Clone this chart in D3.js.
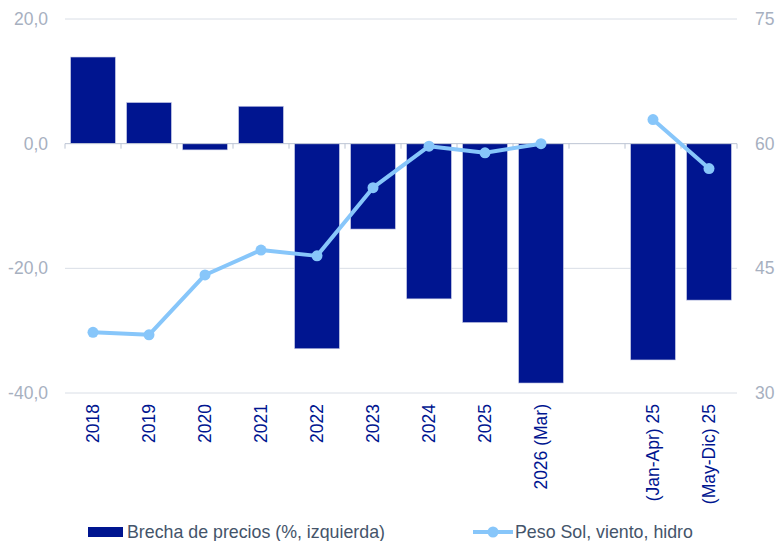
<!DOCTYPE html>
<html lang="es">

<head>
    <meta charset="UTF-8">
    <title>Brecha de precios y peso renovable</title>
    <script src="https://d3js.org/d3.v7.min.js"></script>
    <style>
        body {
            margin: 0;
            font-family: "Liberation Sans", Arial, sans-serif;
            background: white;
        }

        .axis-label {
            font-size: 17.5px;
            fill: #a7b0bf;
        }

        .cat-label {
            font-size: 17.5px;
            fill: #001590;
        }

        .legend-text {
            font-size: 17.8px;
            fill: #44546a;
        }
    </style>
</head>

<body>
    <div id="chart"></div>

    <script>
        const categories = ["2018", "2019", "2020", "2021", "2022", "2023", "2024", "2025", "2026 (Mar)", "", "(Jan-Apr) 25", "(May-Dic) 25"];
        const brecha = [13.9, 6.6, -1.0, 6.0, -32.9, -13.7, -24.9, -28.7, -38.4, null, -34.7, -25.1];
        const peso = [37.3, 37.0, 44.2, 47.2, 46.5, 54.7, 59.7, 58.9, 60.0, null, 62.9, 57.0];
        const leftTicks = [-40, -20, 0, 20];
        const rightTicks = [30, 45, 60, 75];

        const width = 778;
        const height = 541;
        const margin = { top: 19, right: 41, bottom: 148, left: 65 };
        const innerW = width - margin.left - margin.right;
        const innerH = height - margin.top - margin.bottom;

        const barColor = "#001590";
        const lineColor = "#87c6fa";

        const esFormat = d3.formatLocale({ decimal: ",", thousands: ".", grouping: [3], currency: ["", "€"], minus: "-" }).format(".1f");

        const svg = d3.select("#chart")
            .append("svg")
            .attr("width", width)
            .attr("height", height);

        const g = svg.append("g")
            .attr("transform", `translate(${margin.left},${margin.top})`);

        const x = d3.scaleBand()
            .domain(categories.map((c, i) => i))
            .range([0, innerW])
            .paddingInner(0.2)
            .paddingOuter(0.1);

        const y = d3.scaleLinear()
            .domain([-40, 20])
            .range([innerH, 0]);

        const y2 = d3.scaleLinear()
            .domain([30, 75])
            .range([innerH, 0]);

        // gridlines
        g.selectAll(".grid")
            .data(leftTicks.filter(d => d !== 0))
            .enter().append("line")
            .attr("x1", 0)
            .attr("x2", innerW)
            .attr("y1", d => y(d))
            .attr("y2", d => y(d))
            .attr("stroke", "#d9dee6")
            .attr("stroke-width", 1);

        // left axis labels
        g.selectAll(".left-label")
            .data(leftTicks)
            .enter().append("text")
            .attr("class", "axis-label")
            .attr("x", -17)
            .attr("y", d => y(d))
            .attr("dy", "0.35em")
            .attr("text-anchor", "end")
            .text(d => esFormat(d));

        // right axis labels
        g.selectAll(".right-label")
            .data(rightTicks)
            .enter().append("text")
            .attr("class", "axis-label")
            .attr("x", innerW + 18)
            .attr("y", d => y2(d))
            .attr("dy", "0.35em")
            .attr("text-anchor", "start")
            .text(d => d);

        // bars
        g.selectAll(".bar")
            .data(brecha.map((v, i) => ({ i, v })).filter(d => d.v !== null))
            .enter().append("rect")
            .attr("class", "bar")
            .attr("x", d => x(d.i))
            .attr("width", x.bandwidth())
            .attr("y", d => y(Math.max(0, d.v)))
            .attr("height", d => Math.abs(y(d.v) - y(0)))
            .attr("fill", barColor)
            .attr("stroke", "#c8cce6")
            .attr("stroke-width", 0.6);

        // zero line with category boundary ticks
        g.append("line")
            .attr("x1", 0)
            .attr("x2", innerW)
            .attr("y1", y(0))
            .attr("y2", y(0))
            .attr("stroke", "#bcc4d3")
            .attr("stroke-width", 1);

        const bounds = categories.map((c, i) => x(i) - x.step() * x.paddingInner() / 2);
        bounds.push(innerW);
        g.selectAll(".tick-mark")
            .data(bounds)
            .enter().append("line")
            .attr("x1", d => d)
            .attr("x2", d => d)
            .attr("y1", y(0))
            .attr("y2", y(0) + 5)
            .attr("stroke", "#bcc4d3")
            .attr("stroke-width", 1);

        // category labels, rotated
        g.selectAll(".cat-label")
            .data(categories.map((c, i) => ({ c, i })).filter(d => d.c !== ""))
            .enter().append("text")
            .attr("class", "cat-label")
            .attr("transform", d => `translate(${x(d.i) + x.bandwidth() / 2},${innerH + 11}) rotate(-90)`)
            .attr("dy", "0.35em")
            .attr("text-anchor", "end")
            .text(d => d.c);

        // line series
        const pts = peso.map((v, i) => ({ i, v }));
        const line = d3.line()
            .defined(d => d.v !== null)
            .x(d => x(d.i) + x.bandwidth() / 2)
            .y(d => y2(d.v));

        g.append("path")
            .datum(pts)
            .attr("fill", "none")
            .attr("stroke", lineColor)
            .attr("stroke-width", 4)
            .attr("stroke-linejoin", "round")
            .attr("d", line);

        g.selectAll(".dot")
            .data(pts.filter(d => d.v !== null))
            .enter().append("circle")
            .attr("cx", d => x(d.i) + x.bandwidth() / 2)
            .attr("cy", d => y2(d.v))
            .attr("r", 5.5)
            .attr("fill", lineColor);

        // legend
        const legend = svg.append("g");
        legend.append("rect")
            .attr("x", 88)
            .attr("y", 527)
            .attr("width", 35)
            .attr("height", 10)
            .attr("fill", barColor);
        legend.append("text")
            .attr("class", "legend-text")
            .attr("x", 127)
            .attr("y", 538)
            .text("Brecha de precios (%, izquierda)");

        legend.append("line")
            .attr("x1", 473)
            .attr("x2", 513)
            .attr("y1", 532)
            .attr("y2", 532)
            .attr("stroke", lineColor)
            .attr("stroke-width", 4);
        legend.append("circle")
            .attr("cx", 493)
            .attr("cy", 532)
            .attr("r", 5.5)
            .attr("fill", lineColor);
        legend.append("text")
            .attr("class", "legend-text")
            .attr("x", 515)
            .attr("y", 538)
            .text("Peso Sol, viento, hidro");
    </script>
</body>

</html>
